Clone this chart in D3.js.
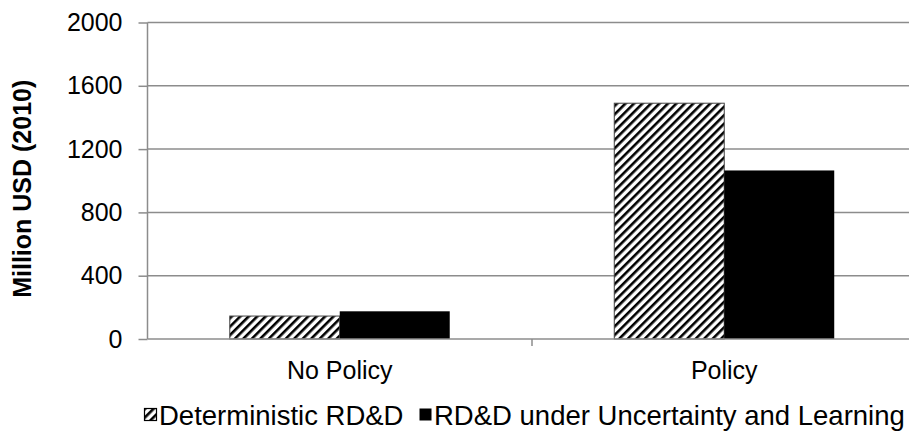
<!DOCTYPE html>
<html>
<head>
<meta charset="utf-8">
<script src="https://cdn.jsdelivr.net/npm/d3@7"></script>
<style>
  html, body { margin: 0; padding: 0; background: #fff; }
  svg { display: block; font-family: "Liberation Sans", Arial, Helvetica, sans-serif; }
</style>
</head>
<body>
<svg id="chart" width="909" height="437"></svg>
<script>
// Annual RD&D spending by scenario
const categories = ["No Policy", "Policy"];
const seriesNames = ["Deterministic RD&D", "RD&D under Uncertainty and Learning"];
const deterministic = [145, 1490];
const uncertainty = [175, 1065];
const yTicks = [0, 400, 800, 1200, 1600, 2000];

(function () {
  const svg = d3.select("#chart");
  const W = 909;
  const mLeft = 147.5, mRight = 916.5, mTop = 22.5, mBottom = 339;
  const gridColor = "#8c8c8c";
  const fontSize = 25;

  // Diagonal hatch for the deterministic series
  const defs = svg.append("defs");
  defs.append("pattern")
    .attr("id", "hatch")
    .attr("patternUnits", "userSpaceOnUse")
    .attr("width", 6).attr("height", 6)
    .attr("patternTransform", "rotate(45)")
    .call(p => {
      p.append("rect").attr("width", 6).attr("height", 6).attr("fill", "#fff");
      p.append("rect").attr("x", 0).attr("y", 0).attr("width", 2.6).attr("height", 6).attr("fill", "#000");
    });

  const x0 = d3.scaleBand().domain(categories).range([mLeft, mRight]).paddingInner(0).paddingOuter(0);
  const x1 = d3.scaleBand().domain(seriesNames).range([0, x0.bandwidth()]).paddingInner(0).paddingOuter(0.748);
  const y = d3.scaleLinear().domain([0, 2000]).range([mBottom, mTop]);

  // Horizontal gridlines
  svg.append("g")
    .selectAll("line")
    .data(yTicks.filter(d => d > 0))
    .join("line")
    .attr("x1", mLeft).attr("x2", W)
    .attr("y1", d => y(d)).attr("y2", d => y(d))
    .attr("stroke", gridColor).attr("stroke-width", 1.5);

  // Bars
  const rows = categories.map((c, i) => ({ cat: c, vals: [deterministic[i], uncertainty[i]] }));
  const groups = svg.append("g").selectAll("g")
    .data(rows).join("g")
    .attr("transform", d => `translate(${x0(d.cat)},0)`);

  groups.selectAll("rect")
    .data(d => d.vals.map((v, j) => ({ name: seriesNames[j], v, j })))
    .join("rect")
    .attr("x", d => x1(d.name))
    .attr("width", x1.bandwidth())
    .attr("y", d => y(d.v))
    .attr("height", d => y(0) - y(d.v))
    .attr("fill", d => d.j === 0 ? "url(#hatch)" : "#000")
    .attr("stroke", d => d.j === 0 ? "#444" : "none")
    .attr("stroke-width", 1);

  // Y axis
  const yAxis = svg.append("g")
    .attr("transform", `translate(${mLeft},0)`)
    .call(d3.axisLeft(y).tickValues(yTicks).tickSize(9).tickPadding(16).tickFormat(d3.format("d")));
  yAxis.select(".domain").attr("stroke", gridColor).attr("stroke-width", 1.5).attr("d", `M0,${mTop}V${mBottom}`);
  yAxis.selectAll(".tick line").attr("stroke", gridColor).attr("stroke-width", 1.5);
  yAxis.selectAll(".tick text").attr("font-size", fontSize).attr("fill", "#000")
    .attr("font-family", "Liberation Sans, Arial, sans-serif");

  // X axis
  const xAxis = svg.append("g")
    .attr("transform", `translate(0,${mBottom})`)
    .call(d3.axisBottom(x0).tickSize(0).tickPadding(22));
  xAxis.select(".domain").attr("stroke", gridColor).attr("stroke-width", 1.5).attr("d", `M${mLeft},0H${W}`);
  xAxis.selectAll(".tick text").attr("font-size", fontSize).attr("fill", "#000")
    .attr("font-family", "Liberation Sans, Arial, sans-serif")
    .attr("dy", null).attr("y", 40);
  // Category separator ticks
  svg.append("g").selectAll("line")
    .data(categories.slice(1))
    .join("line")
    .attr("x1", d => x0(d)).attr("x2", d => x0(d))
    .attr("y1", mBottom).attr("y2", mBottom + 7)
    .attr("stroke", gridColor).attr("stroke-width", 1.5);

  // Y axis title
  svg.append("text")
    .attr("transform", `translate(31,${(mTop + mBottom) / 2 + 8}) rotate(-90)`)
    .attr("text-anchor", "middle")
    .attr("font-size", 25).attr("font-weight", "bold")
    .text("Million USD (2010)");

  // Legend
  const legendItems = [
    { name: seriesNames[0], fill: "url(#hatch)", stroke: "#000", x: 144 },
    { name: seriesNames[1], fill: "#000", stroke: "none", x: 419 }
  ];
  const lg = svg.append("g").selectAll("g")
    .data(legendItems).join("g")
    .attr("transform", d => `translate(${d.x},${408})`);
  lg.append("rect")
    .attr("x", 0.5).attr("y", 0.5).attr("width", 12).attr("height", 12)
    .attr("fill", d => d.fill).attr("stroke", d => d.stroke).attr("stroke-width", 1.2);
  lg.append("text")
    .attr("x", 15).attr("y", 17)
    .attr("font-size", 27.5)
    .text(d => d.name);
})();
</script>
</body>
</html>
